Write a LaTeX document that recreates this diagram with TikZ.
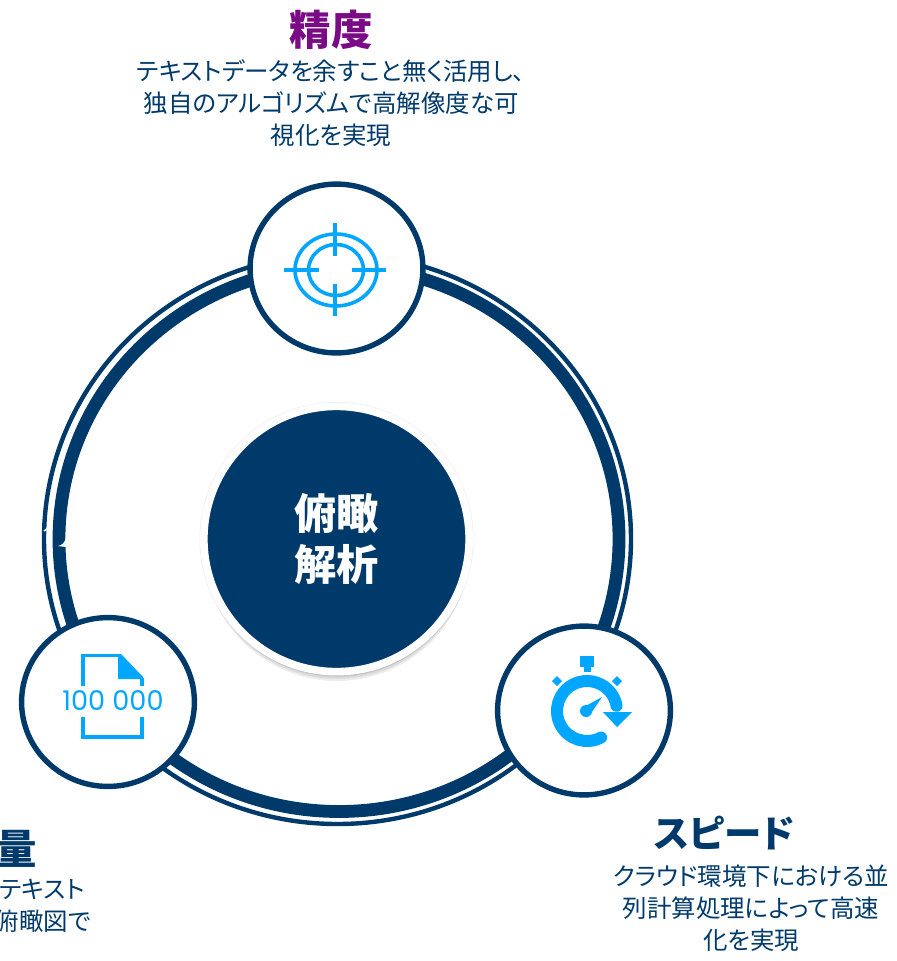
\documentclass[tikz,border=0pt]{standalone}
\usepackage{fontspec}
\setmainfont{Noto Sans CJK JP}[RawFeature=+palt]
\newfontfamily\digitfont{Poppins}
\usepackage{tikz}
\usetikzlibrary{shapes.geometric}
\definecolor{navy}{HTML}{003A6B}
\definecolor{iconblue}{HTML}{00A6FF}
\definecolor{titlepurple}{HTML}{7A0A85}
\tikzstyle{spot} = [ellipse, draw=navy, fill=white, line width=0.135cm, minimum width=4.32cm, minimum height=4.22cm, inner sep=0pt]
\tikzstyle{headline} = [font=\bfseries\fontsize{29.5}{36}\selectfont, text=navy, inner sep=0pt]
\tikzstyle{blurb} = [font=\fontsize{17.4}{22.9}\selectfont, text=navy, align=center, inner sep=0pt]
\tikzstyle{thinicon} = [draw=iconblue, line width=0.09cm]

\begin{document}
\begin{tikzpicture}[x=0.025cm, y=-0.025cm]
    \useasboundingbox (0,0) rectangle (896,961);
    \clip (0,0) rectangle (896,961);

    % Rings
    \draw [navy, line width=0.11cm] (337.5,539) ellipse [x radius=293.5, y radius=285];
    \draw [navy, line width=0.32cm] (339,539) ellipse [x radius=280, y radius=272.5];
    \draw [white, line width=0.04cm] (44,531) -- (50,527);
    \fill [white] (66,537) .. controls (65,543) and (62,545) .. (58,546) -- (66,547) -- cycle;

    % Hub
    \fill [black, opacity=0.08] (336.5,539) circle [radius=137];
    \foreach \i in {3,5,7,9}
        \fill [black, opacity=0.07] (337,539+\i) circle [radius=133];
    \node (hub) at (336.5,539) [circle, draw=white, fill=navy, line width=0.19cm, minimum size=6.63cm, inner sep=0pt, text=white, align=center, font=\bfseries\fontsize{30}{36}\selectfont] {俯瞰\\解析};

    % Satellites
    \node (precision) at (336.5,268.5) [spot] {};
    \node (volume) at (108,702) [spot] {};
    \node (speed) at (584,710.5) [spot] {};

    % Target icon
    \draw [thinicon] (336,270) ellipse [x radius=41, y radius=36];
    \draw [thinicon] (336,270) ellipse [x radius=27.5, y radius=25.5];
    \draw [thinicon] (284,270) -- (319,270);
    \draw [thinicon] (352,270) -- (386,270);
    \draw [thinicon] (335,223) -- (335,256);
    \draw [thinicon] (335,284) -- (335,316);

    % Document icon
    \draw [thinicon] (83,686) -- (83,655.5) -- (120,655.5);
    \draw [thinicon] (83,717) -- (83,737) -- (142,737) -- (142,717);
    \draw [thinicon] (142,678) -- (142,686);
    \fill [iconblue] (118,654) -- (121,654) -- (143,677) -- (143,679) -- (118,679) -- cycle;
    \node (count) at (113,700.5) [text=iconblue, inner sep=0pt, font=\digitfont\fontsize{19.3}{24}\selectfont] {100 000};

    % Stopwatch icon
    \fill [iconblue] (580,656) rectangle (594,667);
    \fill [iconblue] (584,667) rectangle (591,672);
    \fill [iconblue] (557,676) -- (562,681) -- (557,686) -- (552,681) -- cycle;
    \fill [iconblue] (617,676) -- (622,681) -- (617,686) -- (612,681) -- cycle;
    \draw [iconblue, line width=0.3cm, line cap=round] (587,711) ++(62:30) arc [start angle=62, end angle=350, radius=30];
    \fill [iconblue] (603,712) -- (632,712) -- (617,727) -- cycle;
    \fill [iconblue] (586,711) circle [radius=6];
    \fill [iconblue] (582,708) -- (602,697) -- (590,715) -- cycle;

    % Labels
    \node (precisionhead) at (331,30) [headline, text=titlepurple] {精度};
    \node (precisiontext) at (331,103) [blurb] {テキストデータを余すこと無く活用し、\\独自のアルゴリズムで高解像度な可\\視化を実現};
    \node (volumehead) at (37,849) [headline, anchor=east] {量};
    \node (volumetext) at (85,889) [blurb, anchor=east] {のテキスト};
    \node (volumetextb) at (91,921) [blurb, anchor=east] {俯瞰図で};
    \node (speedhead) at (724,833) [headline, font=\bfseries\fontsize{26.6}{36}\selectfont] {スピード};
    \node (speedtext) at (751,908) [blurb] {クラウド環境下における並\\列計算処理によって高速\\化を実現};
\end{tikzpicture}
\end{document}
